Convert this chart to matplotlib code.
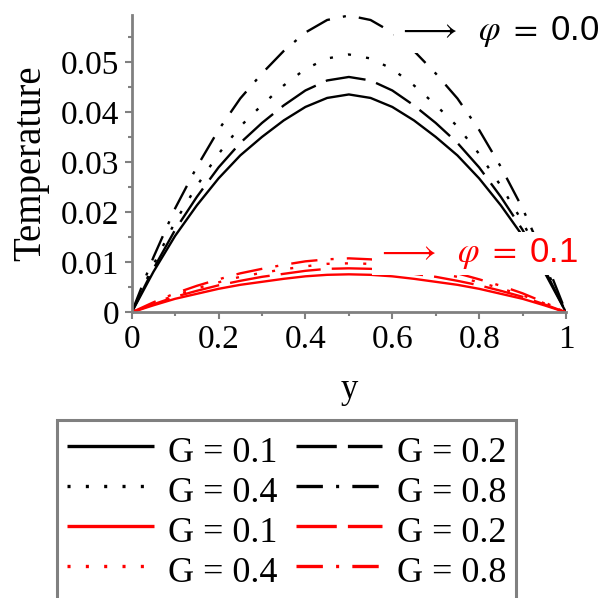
import matplotlib
matplotlib.use('Agg')
import matplotlib.pyplot as plt

plt.rcParams['font.family'] = ['Liberation Serif', 'DejaVu Serif']
plt.rcParams['mathtext.fontset'] = 'stix'
plt.rcParams['lines.scale_dashes'] = False

y = [0, 0.05, 0.1, 0.15, 0.2, 0.25, 0.3, 0.35, 0.4, 0.45, 0.5,
     0.55, 0.6, 0.65, 0.7, 0.75, 0.8, 0.85, 0.9, 0.95, 1]

# phi = 0.0 (black)
t0_g01 = [0, 0.0081, 0.0153, 0.0214, 0.0268, 0.0314, 0.0351, 0.0384, 0.0411, 0.0429, 0.0436,
          0.0429, 0.0411, 0.0384, 0.0351, 0.0314, 0.0268, 0.0214, 0.0153, 0.0081, 0]
t0_g02 = [0, 0.0087, 0.0165, 0.0231, 0.0290, 0.0339, 0.0379, 0.0414, 0.0444, 0.0464, 0.0471,
          0.0464, 0.0444, 0.0414, 0.0379, 0.0339, 0.0290, 0.0231, 0.0165, 0.0087, 0]
t0_g04 = [0, 0.0095, 0.0181, 0.0253, 0.0317, 0.0372, 0.0415, 0.0454, 0.0487, 0.0508, 0.0516,
          0.0508, 0.0487, 0.0454, 0.0415, 0.0372, 0.0317, 0.0253, 0.0181, 0.0095, 0]
t0_g08 = [0, 0.0110, 0.0208, 0.0291, 0.0365, 0.0428, 0.0478, 0.0523, 0.0560, 0.0585, 0.0594,
          0.0585, 0.0560, 0.0523, 0.0478, 0.0428, 0.0365, 0.0291, 0.0208, 0.0110, 0]

# phi = 0.1 (red)
t1_g01 = [0, 0.0014, 0.0027, 0.0037, 0.0047, 0.0055, 0.0061, 0.0067, 0.0072, 0.0075, 0.0076,
          0.0075, 0.0072, 0.0067, 0.0061, 0.0055, 0.0047, 0.0037, 0.0027, 0.0014, 0]
t1_g02 = [0, 0.0016, 0.0031, 0.0043, 0.0054, 0.0063, 0.0071, 0.0077, 0.0083, 0.0087, 0.0088,
          0.0087, 0.0083, 0.0077, 0.0071, 0.0063, 0.0054, 0.0043, 0.0031, 0.0016, 0]
t1_g04 = [0, 0.0018, 0.0034, 0.0048, 0.0060, 0.0071, 0.0079, 0.0086, 0.0092, 0.0097, 0.0098,
          0.0097, 0.0092, 0.0086, 0.0079, 0.0071, 0.0060, 0.0048, 0.0034, 0.0018, 0]
t1_g08 = [0, 0.0020, 0.0038, 0.0053, 0.0066, 0.0078, 0.0087, 0.0095, 0.0102, 0.0106, 0.0108,
          0.0106, 0.0102, 0.0095, 0.0087, 0.0078, 0.0066, 0.0053, 0.0038, 0.0020, 0]

g_labels = ['G = 0.1', 'G = 0.2', 'G = 0.4', 'G = 0.8']
x_ticks = [0, 0.2, 0.4, 0.6, 0.8, 1]
x_ticklabels = ['0', '0.2', '0.4', '0.6', '0.8', '1']
y_ticks = [0, 0.01, 0.02, 0.03, 0.04, 0.05]
y_ticklabels = ['0', '0.01', '0.02', '0.03', '0.04', '0.05']

dashes = [None, (29, 8), (2.2, 11), (19, 9.5, 2.2, 9.5)]

fig = plt.figure(figsize=(6.03, 5.98), dpi=100)
ax = fig.add_axes([131.7 / 603, (598 - 312.3) / 598, 434.3 / 603, (312.3 - 15) / 598])

lines = {}
for color, series, tag in [('black', [t0_g01, t0_g02, t0_g04, t0_g08], 'k'),
                           ('#ff0000', [t1_g01, t1_g02, t1_g04, t1_g08], 'r')]:
    for i, vals in enumerate(series):
        ln, = ax.plot(y, vals, color=color, lw=1.7, label=g_labels[i],
                      dash_capstyle='butt', solid_capstyle='butt')
        if dashes[i] is not None:
            ln.set_dashes(dashes[i])
        lines[(tag, i)] = ln

ax.set_xlim(0, 1)
ax.set_ylim(0, 0.0595)
for s in ['top', 'right']:
    ax.spines[s].set_visible(False)
for s in ['left', 'bottom']:
    ax.spines[s].set_color('#808080')
    ax.spines[s].set_linewidth(2)

ax.set_xticks(x_ticks)
ax.set_xticklabels(x_ticklabels)
ax.set_xticks([0.1, 0.3, 0.5, 0.7, 0.9], minor=True)
ax.set_yticks(y_ticks)
ax.set_yticklabels(y_ticklabels)
ax.set_yticks([0.005, 0.015, 0.025, 0.035, 0.045, 0.055], minor=True)
ax.tick_params(which='both', direction='out', color='#808080', width=1.5, labelsize=24, pad=4)
ax.tick_params(which='major', length=5)
ax.tick_params(which='minor', length=3)

ax.set_xlabel('y', fontsize=25)
ax.xaxis.set_label_coords(0.5, -0.205)
ax.set_ylabel('Temperature', fontsize=28)
ax.yaxis.set_label_coords(-0.19, 0.5)

# curve-family labels; the white box hides the curves under them, as in the original
ax.text(0.612, 0.0561, r'$\longrightarrow\ \ \varphi\ =\ $0.0', fontsize=25, color='black',
        family='Liberation Sans', va='center', ha='left',
        bbox=dict(boxstyle='square,pad=0.1', fc='white', ec='none'))
ax.text(0.563, 0.0118, r'$\longrightarrow\ \ \varphi\ =\ $0.1', fontsize=25, color='#ff0000',
        family='Liberation Sans', va='center', ha='left',
        bbox=dict(boxstyle='square,pad=0.12', fc='white', ec='none'))

order = [('k', 0), ('k', 2), ('r', 0), ('r', 2), ('k', 1), ('k', 3), ('r', 1), ('r', 3)]
leg = ax.legend([lines[o] for o in order], [g_labels[o[1]] for o in order],
                ncol=2, loc='upper left', bbox_to_anchor=(57 / 603, 1 - 420 / 598),
                bbox_transform=fig.transFigure, borderaxespad=0, fontsize=26,
                handlelength=2.4, handleheight=1.32, handletextpad=0.4, columnspacing=0.5,
                labelspacing=0.0, borderpad=0.28, fancybox=False, framealpha=1)
leg.get_frame().set_edgecolor('#808080')
leg.get_frame().set_linewidth(2.2)
for ln in leg.get_lines():
    ln.set_linewidth(2.4)

fig.savefig('out.png', dpi=100)
